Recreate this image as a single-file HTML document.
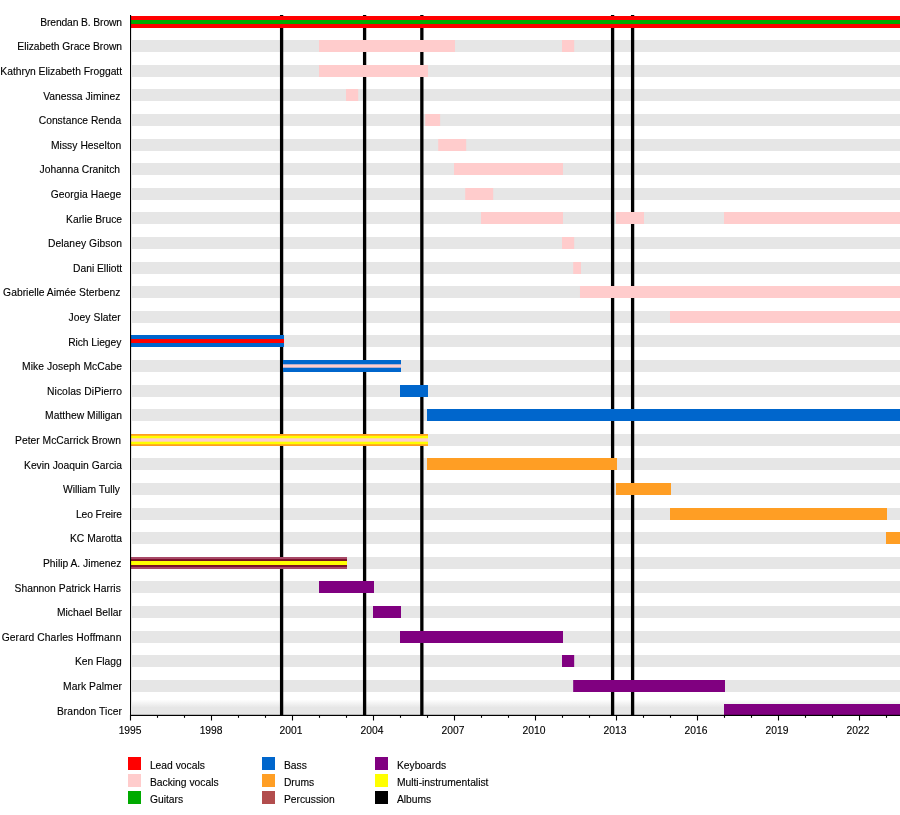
<!DOCTYPE html>
<html><head><meta charset="utf-8"><title>Timeline</title>
<style>
html,body{margin:0;padding:0;background:#fff}
svg{display:block}
text{font-family:"Liberation Sans",sans-serif;font-size:10.3px;fill:#000;stroke:#000;stroke-width:0.12px}
</style></head><body>
<svg width="900" height="815" viewBox="0 0 900 815">
<defs><linearGradient id="lg" x1="0" y1="0" x2="0" y2="1"><stop offset="0" stop-color="#ffffff"/><stop offset="0.52" stop-color="#e6e6e6"/><stop offset="1" stop-color="#e6e6e6"/></linearGradient></defs>
<rect width="900" height="815" fill="#fff"/>

<g fill="#e6e6e6">
<rect x="132" y="40.00" width="768" height="12.00"/>
<rect x="132" y="65.00" width="768" height="12.00"/>
<rect x="132" y="89.00" width="768" height="12.00"/>
<rect x="132" y="114.00" width="768" height="12.00"/>
<rect x="132" y="139.00" width="768" height="12.00"/>
<rect x="132" y="163.00" width="768" height="12.00"/>
<rect x="132" y="188.00" width="768" height="12.00"/>
<rect x="132" y="212.00" width="768" height="12.00"/>
<rect x="132" y="237.00" width="768" height="12.00"/>
<rect x="132" y="262.00" width="768" height="12.00"/>
<rect x="132" y="286.00" width="768" height="12.00"/>
<rect x="132" y="311.00" width="768" height="12.00"/>
<rect x="132" y="335.00" width="768" height="12.00"/>
<rect x="132" y="360.00" width="768" height="12.00"/>
<rect x="132" y="385.00" width="768" height="12.00"/>
<rect x="132" y="409.00" width="768" height="12.00"/>
<rect x="132" y="434.00" width="768" height="12.00"/>
<rect x="132" y="458.00" width="768" height="12.00"/>
<rect x="132" y="483.00" width="768" height="12.00"/>
<rect x="132" y="508.00" width="768" height="12.00"/>
<rect x="132" y="532.00" width="768" height="12.00"/>
<rect x="132" y="557.00" width="768" height="12.00"/>
<rect x="132" y="581.00" width="768" height="12.00"/>
<rect x="132" y="606.00" width="768" height="12.00"/>
<rect x="132" y="631.00" width="768" height="12.00"/>
<rect x="132" y="655.00" width="768" height="12.00"/>
<rect x="132" y="680.00" width="768" height="12.00"/>
<rect x="132" y="699.5" width="768" height="15.5" fill="url(#lg)"/>
</g>
<g fill="#000">
<rect x="279.95" y="15" width="3.3" height="700"/>
<rect x="362.95" y="15" width="3.3" height="700"/>
<rect x="420.20" y="15" width="3.3" height="700"/>
<rect x="610.95" y="15" width="3.3" height="700"/>
<rect x="630.95" y="15" width="3.3" height="700"/>
</g>
<rect x="131.00" y="16.00" width="769.00" height="12.00" fill="#ff0000"/>
<rect x="131.00" y="20.00" width="769.00" height="4.00" fill="#00aa00"/>
<rect x="319.00" y="40.00" width="136.00" height="12.00" fill="#ffcccc"/>
<rect x="562.00" y="40.00" width="12.18" height="12.00" fill="#ffcccc"/>
<rect x="319.00" y="65.00" width="109.00" height="12.00" fill="#ffcccc"/>
<rect x="346.00" y="89.00" width="12.18" height="12.00" fill="#ffcccc"/>
<rect x="425.24" y="114.00" width="14.91" height="12.00" fill="#ffcccc"/>
<rect x="438.18" y="139.00" width="28.00" height="12.00" fill="#ffcccc"/>
<rect x="454.00" y="163.00" width="109.00" height="12.00" fill="#ffcccc"/>
<rect x="465.18" y="188.00" width="28.00" height="12.00" fill="#ffcccc"/>
<rect x="481.00" y="212.00" width="82.00" height="12.00" fill="#ffcccc"/>
<rect x="616.00" y="212.00" width="28.00" height="12.00" fill="#ffcccc"/>
<rect x="724.00" y="212.00" width="176.00" height="12.00" fill="#ffcccc"/>
<rect x="562.00" y="237.00" width="12.18" height="12.00" fill="#ffcccc"/>
<rect x="573.18" y="262.00" width="7.80" height="12.00" fill="#ffcccc"/>
<rect x="579.98" y="286.00" width="320.02" height="12.00" fill="#ffcccc"/>
<rect x="670.00" y="311.00" width="230.00" height="12.00" fill="#ffcccc"/>
<rect x="131.00" y="335.00" width="153.01" height="12.00" fill="#0066cc"/>
<rect x="131.00" y="339.00" width="153.01" height="4.00" fill="#ff0000"/>
<rect x="283.01" y="360.00" width="117.99" height="12.00" fill="#0066cc"/>
<rect x="283.01" y="364.30" width="117.99" height="3.40" fill="#ffcccc"/>
<rect x="400.00" y="385.00" width="28.00" height="12.00" fill="#0066cc"/>
<rect x="427.00" y="409.00" width="473.00" height="12.00" fill="#0066cc"/>
<rect x="131.00" y="434.00" width="297.00" height="12.00" fill="#ff9e24"/>
<rect x="131.00" y="435.75" width="297.00" height="8.50" fill="#ffff00"/>
<rect x="131.00" y="438.30" width="297.00" height="3.40" fill="#ffcccc"/>
<rect x="427.00" y="458.00" width="190.00" height="12.00" fill="#ff9e24"/>
<rect x="616.00" y="483.00" width="55.00" height="12.00" fill="#ff9e24"/>
<rect x="670.00" y="508.00" width="217.00" height="12.00" fill="#ff9e24"/>
<rect x="886.00" y="532.00" width="14.00" height="12.00" fill="#ff9e24"/>
<rect x="131.00" y="557.00" width="216.00" height="12.00" fill="#a84a68"/>
<rect x="131.00" y="559.20" width="216.00" height="7.60" fill="#720620"/>
<rect x="131.00" y="560.95" width="216.00" height="4.10" fill="#ffff00"/>
<rect x="319.00" y="581.00" width="55.00" height="12.00" fill="#800080"/>
<rect x="373.00" y="606.00" width="28.00" height="12.00" fill="#800080"/>
<rect x="400.00" y="631.00" width="163.00" height="12.00" fill="#800080"/>
<rect x="562.00" y="655.00" width="12.18" height="12.00" fill="#800080"/>
<rect x="573.18" y="680.00" width="151.82" height="12.00" fill="#800080"/>
<rect x="724.00" y="704.00" width="176.00" height="11.50" fill="#800080"/>
<rect x="130" y="15" width="1.1" height="701" fill="#000"/>
<rect x="130" y="714.8" width="770" height="1.2" fill="#000"/>
<g fill="#000">
<rect x="129.95" y="715" width="1.1" height="5.5"/>
<rect x="156.95" y="715" width="1.1" height="2.8"/>
<rect x="183.95" y="715" width="1.1" height="2.8"/>
<rect x="210.95" y="715" width="1.1" height="5.5"/>
<rect x="237.95" y="715" width="1.1" height="2.8"/>
<rect x="264.95" y="715" width="1.1" height="2.8"/>
<rect x="291.95" y="715" width="1.1" height="5.5"/>
<rect x="318.95" y="715" width="1.1" height="2.8"/>
<rect x="345.95" y="715" width="1.1" height="2.8"/>
<rect x="372.95" y="715" width="1.1" height="5.5"/>
<rect x="399.95" y="715" width="1.1" height="2.8"/>
<rect x="426.95" y="715" width="1.1" height="2.8"/>
<rect x="453.95" y="715" width="1.1" height="5.5"/>
<rect x="480.95" y="715" width="1.1" height="2.8"/>
<rect x="507.95" y="715" width="1.1" height="2.8"/>
<rect x="534.95" y="715" width="1.1" height="5.5"/>
<rect x="561.95" y="715" width="1.1" height="2.8"/>
<rect x="588.95" y="715" width="1.1" height="2.8"/>
<rect x="615.95" y="715" width="1.1" height="5.5"/>
<rect x="642.95" y="715" width="1.1" height="2.8"/>
<rect x="669.95" y="715" width="1.1" height="2.8"/>
<rect x="696.95" y="715" width="1.1" height="5.5"/>
<rect x="723.95" y="715" width="1.1" height="2.8"/>
<rect x="750.95" y="715" width="1.1" height="2.8"/>
<rect x="777.95" y="715" width="1.1" height="5.5"/>
<rect x="804.95" y="715" width="1.1" height="2.8"/>
<rect x="831.95" y="715" width="1.1" height="2.8"/>
<rect x="858.95" y="715" width="1.1" height="5.5"/>
<rect x="885.95" y="715" width="1.1" height="2.8"/>
</g>
<g text-anchor="middle">
<text x="130.10" y="733.8">1995</text>
<text x="211.10" y="733.8">1998</text>
<text x="291.00" y="733.8">2001</text>
<text x="372.00" y="733.8">2004</text>
<text x="453.00" y="733.8">2007</text>
<text x="534.00" y="733.8">2010</text>
<text x="615.00" y="733.8">2013</text>
<text x="696.00" y="733.8">2016</text>
<text x="777.00" y="733.8">2019</text>
<text x="858.00" y="733.8">2022</text>
</g>
<g text-anchor="end">
<text x="122.1" y="25.75" textLength="81.9" lengthAdjust="spacing">Brendan B. Brown</text>
<text x="122.1" y="50.35" textLength="104.8" lengthAdjust="spacing">Elizabeth Grace Brown</text>
<text x="122.1" y="74.95" textLength="121.8" lengthAdjust="spacing">Kathryn Elizabeth Froggatt</text>
<text x="120.4" y="99.55" textLength="77.2" lengthAdjust="spacing">Vanessa Jiminez</text>
<text x="121.3" y="124.15" textLength="82.6" lengthAdjust="spacing">Constance Renda</text>
<text x="121.3" y="148.75" textLength="70.3" lengthAdjust="spacing">Missy Heselton</text>
<text x="120.0" y="173.35" textLength="80.4" lengthAdjust="spacing">Johanna Cranitch</text>
<text x="121.3" y="197.95" textLength="70.6" lengthAdjust="spacing">Georgia Haege</text>
<text x="122.1" y="222.55" textLength="56.0" lengthAdjust="spacing">Karlie Bruce</text>
<text x="122.1" y="247.15" textLength="74.2" lengthAdjust="spacing">Delaney Gibson</text>
<text x="122.1" y="271.75" textLength="49.0" lengthAdjust="spacing">Dani Elliott</text>
<text x="120.4" y="296.35" textLength="117.3" lengthAdjust="spacing">Gabrielle Aimée Sterbenz</text>
<text x="120.7" y="320.95" textLength="52.1" lengthAdjust="spacing">Joey Slater</text>
<text x="121.3" y="345.55" textLength="53.1" lengthAdjust="spacing">Rich Liegey</text>
<text x="122.1" y="370.15" textLength="100.1" lengthAdjust="spacing">Mike Joseph McCabe</text>
<text x="122.1" y="394.75" textLength="75.1" lengthAdjust="spacing">Nicolas DiPierro</text>
<text x="122.1" y="419.35" textLength="77.0" lengthAdjust="spacing">Matthew Milligan</text>
<text x="121.0" y="443.95" textLength="105.9" lengthAdjust="spacing">Peter McCarrick Brown</text>
<text x="122.1" y="468.55" textLength="98.1" lengthAdjust="spacing">Kevin Joaquin Garcia</text>
<text x="120.0" y="493.15" textLength="56.9" lengthAdjust="spacing">William Tully</text>
<text x="122.1" y="517.75" textLength="46.2" lengthAdjust="spacing">Leo Freire</text>
<text x="122.1" y="542.35" textLength="52.1" lengthAdjust="spacing">KC Marotta</text>
<text x="121.4" y="566.95" textLength="78.4" lengthAdjust="spacing">Philip A. Jimenez</text>
<text x="120.8" y="591.55" textLength="106.3" lengthAdjust="spacing">Shannon Patrick Harris</text>
<text x="121.9" y="616.15" textLength="65.0" lengthAdjust="spacing">Michael Bellar</text>
<text x="121.4" y="640.75" textLength="119.7" lengthAdjust="spacing">Gerard Charles Hoffmann</text>
<text x="121.7" y="665.35" textLength="46.7" lengthAdjust="spacing">Ken Flagg</text>
<text x="121.9" y="689.95" textLength="58.8" lengthAdjust="spacing">Mark Palmer</text>
<text x="121.9" y="714.55" textLength="65.0" lengthAdjust="spacing">Brandon Ticer</text>
</g>
<rect x="128.00" y="757.00" width="13" height="13" fill="#ff0000"/>
<text x="149.90" y="768.60">Lead vocals</text>
<rect x="128.00" y="774.00" width="13" height="13" fill="#ffcccc"/>
<text x="149.90" y="785.60">Backing vocals</text>
<rect x="128.00" y="791.00" width="13" height="13" fill="#00aa00"/>
<text x="149.90" y="802.60">Guitars</text>
<rect x="262.00" y="757.00" width="13" height="13" fill="#0066cc"/>
<text x="283.90" y="768.60">Bass</text>
<rect x="262.00" y="774.00" width="13" height="13" fill="#ff9e24"/>
<text x="283.90" y="785.60">Drums</text>
<rect x="262.00" y="791.00" width="13" height="13" fill="#b24d4d"/>
<text x="283.90" y="802.60">Percussion</text>
<rect x="375.00" y="757.00" width="13" height="13" fill="#800080"/>
<text x="396.90" y="768.60">Keyboards</text>
<rect x="375.00" y="774.00" width="13" height="13" fill="#ffff00"/>
<text x="396.90" y="785.60">Multi-instrumentalist</text>
<rect x="375.00" y="791.00" width="13" height="13" fill="#000000"/>
<text x="396.90" y="802.60">Albums</text>
</svg></body></html>
